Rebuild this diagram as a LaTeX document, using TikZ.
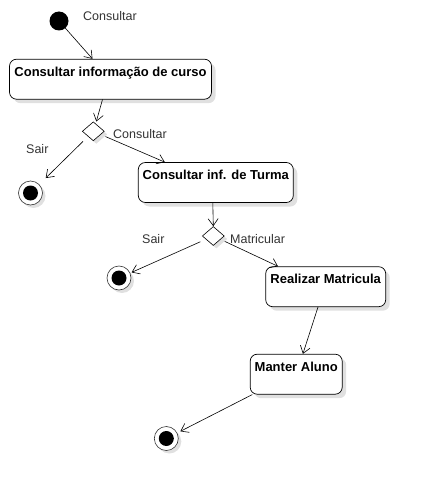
\documentclass[tikz,border=0pt]{standalone}
\usepackage{fontspec}
\setmainfont{Liberation Sans}
\usetikzlibrary{arrows.meta,shapes.geometric,shadows}
\tikzset{
  activity/.style={draw=black, line width=0.7pt, rounded corners=7pt, fill=white,
    drop shadow={shadow xshift=4pt, shadow yshift=-4pt, fill=black!12, opacity=1},
    font=\fontsize{13}{15}\selectfont\bfseries, inner xsep=2pt, inner ysep=3pt,
    text height=14pt, text depth=20pt, minimum height=40pt},
  decision/.style={draw, diamond, line width=0.6pt, fill=white, inner sep=0pt,
    minimum width=22pt, minimum height=19pt,
    drop shadow={shadow xshift=3pt, shadow yshift=-3pt, fill=black!12, opacity=1}},
  initial/.style={circle, fill=black, minimum size=19pt, inner sep=0pt},
  final/.style={draw=black!80, circle, line width=0.6pt, fill=white, minimum size=24pt, inner sep=0pt,
    drop shadow={shadow xshift=3pt, shadow yshift=-3pt, fill=black!12, opacity=1},
    path picture={\fill[black] (path picture bounding box.center) circle (7.5pt);}},
  guard/.style={font=\fontsize{12.5}{14}\selectfont, text=black!80, anchor=west, inner sep=0pt},
  flow/.style={-{Straight Barb[length=7pt,width=10pt]}, line width=0.6pt}
}
\begin{document}
\begin{tikzpicture}[x=1pt,y=-1pt]
  \useasboundingbox (0,0) rectangle (425,492);
  \node[initial] (ini) at (59,21) {};
  \node[guard] (lblini) at (83,16) {Consultar};
  \node[activity, minimum width=202pt] (curso) at (110.5,79.2) {Consultar informação de curso};
  \node[decision] (dec1) at (93.3,131.3) {};
  \node[guard] (lblsair1) at (26,149) {Sair};
  \node[guard] (lblcons) at (113,134) {Consultar};
  \node[final] (fin1) at (30.5,193) {};
  \node[activity, minimum width=155pt] (turma) at (215.8,182.5) {Consultar inf. de Turma};
  \node[decision] (dec2) at (213.3,236) {};
  \node[guard] (lblsair2) at (142,239) {Sair};
  \node[guard] (lblmat) at (230,239) {Matricular};
  \node[final] (fin2) at (119,278) {};
  \node[activity, minimum width=120pt] (matricula) at (325.7,286.7) {Realizar Matricula};
  \node[activity, minimum width=92pt] (aluno) at (296.2,374.2) {Manter Aluno};
  \node[final] (fin3) at (166.3,438.5) {};
  \draw[flow] (ini) -- ([xshift=-18pt]curso.north);
  \draw[flow] ([xshift=-8pt]curso.south) -- ([xshift=3pt]dec1.north);
  \draw[flow, shorten <=7pt, shorten >=9pt] (dec1) -- (fin1);
  \draw[flow, shorten <=5pt] (dec1) -- ([xshift=-51pt]turma.north);
  \draw[flow] ([xshift=-3pt]turma.south) -- (dec2.north);
  \draw[flow, shorten <=6pt, shorten >=1.5pt] (dec2) -- (fin2);
  \draw[flow, shorten <=4.5pt] (dec2) -- ([xshift=-47.7pt]matricula.north);
  \draw[flow] ([xshift=-7.7pt]matricula.south) -- ([xshift=6.7pt]aluno.north);
  \draw[flow, shorten >=3.5pt] ([xshift=2.5pt]aluno.south west) -- (fin3);
\end{tikzpicture}
\end{document}
